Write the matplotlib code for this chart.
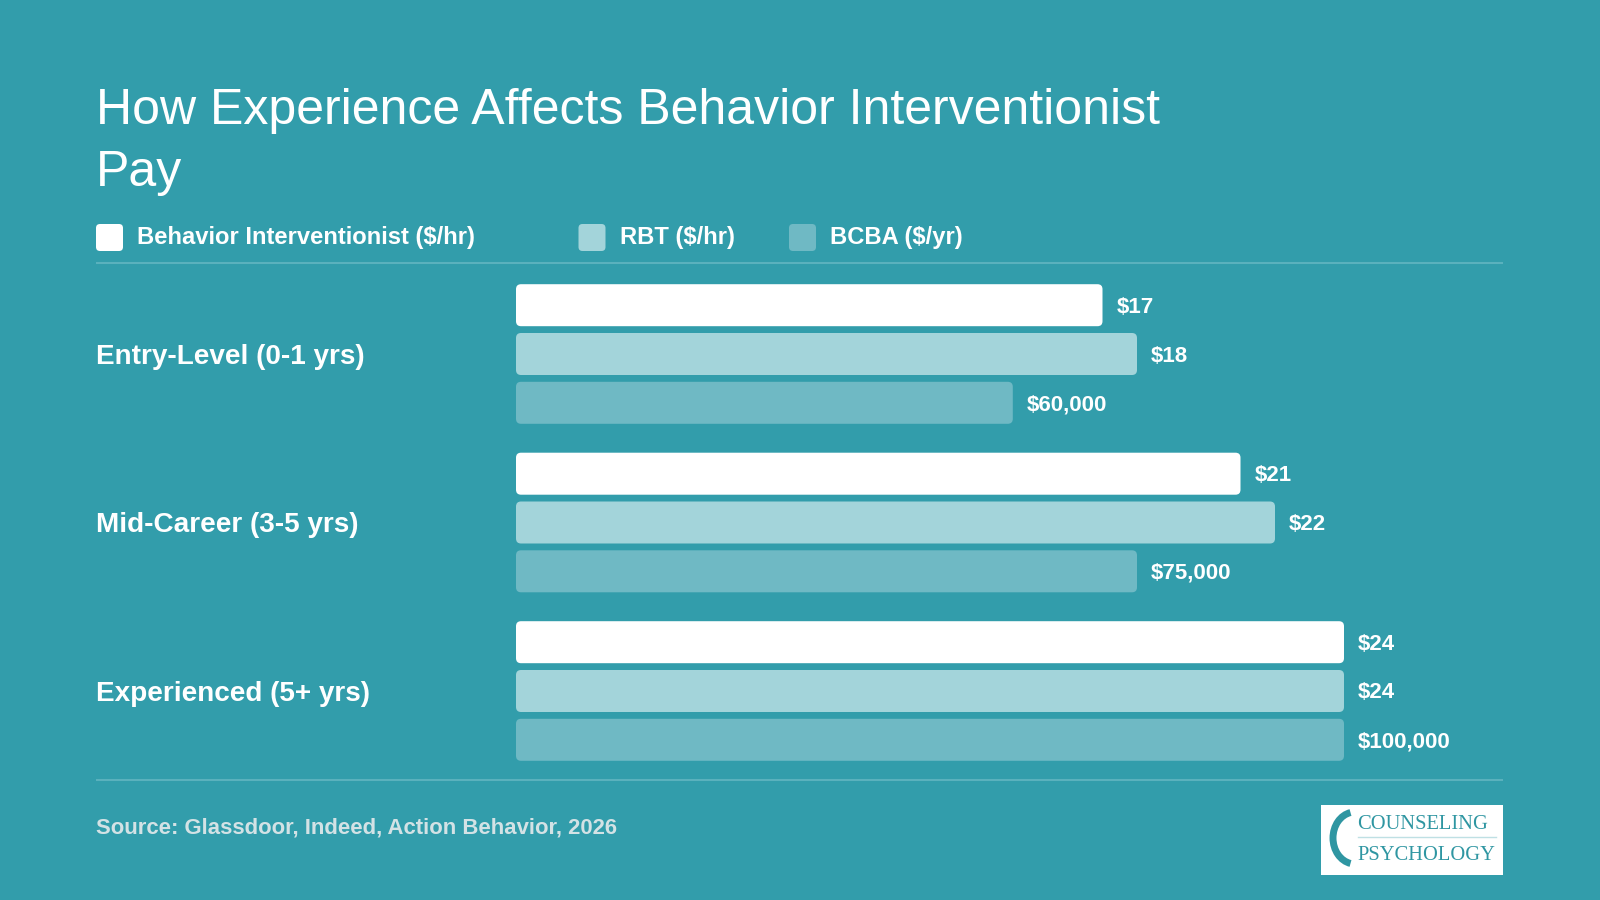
import matplotlib
matplotlib.use("Agg")
import matplotlib.pyplot as plt
from matplotlib.patches import FancyBboxPatch, Rectangle, Arc
import matplotlib.transforms as mtransforms

# ---- data ----
categories = ["Entry-Level (0-1 yrs)", "Mid-Career (3-5 yrs)", "Experienced (5+ yrs)"]
series_names = ["Behavior Interventionist ($/hr)", "RBT ($/hr)", "BCBA ($/yr)"]
bi_hourly = [17, 21, 24]
rbt_hourly = [18, 22, 24]
bcba_yearly = [60000, 75000, 100000]

title = "How Experience Affects Behavior Interventionist\nPay"
source = "Source: Glassdoor, Indeed, Action Behavior, 2026"

# ---- style ----
BG = "#329DAB"
COLORS = ["#FFFFFF", "#A3D4DA", "#6FB9C4"]
LINE = "#5AB1BD"
SRC = "#D3E2E5"
LOGO_TEAL = "#2F96A2"
FONT = "Liberation Sans"

W, H = 1600, 900
fig = plt.figure(figsize=(16, 9), dpi=100, facecolor=BG)

# background axes in pixel coordinates
bg = fig.add_axes([0, 0, 1, 1])
bg.set_xlim(0, W)
bg.set_ylim(H, 0)
bg.axis("off")
bg.set_facecolor(BG)

# title
t1, t2 = title.split("\n")
bg.text(96, 123.5, t1, fontsize=36, color="white", family=FONT, va="baseline", ha="left")
bg.text(96, 186, t2, fontsize=36, color="white", family=FONT, va="baseline", ha="left")

# legend
leg_x = [96, 578.5, 789]
for x, name, c in zip(leg_x, series_names, COLORS):
    bg.add_patch(FancyBboxPatch((x, 224), 27, 27, boxstyle="round,pad=0,rounding_size=4",
                                facecolor=c, edgecolor="none"))
    bg.text(x + 41, 237.5, name, fontsize=17.1, fontweight="bold", color="white",
            family=FONT, va="center", ha="left")

# separators
bg.plot([96, 1503], [263, 263], color=LINE, lw=1.5, solid_capstyle="butt")
bg.plot([96, 1503], [780, 780], color=LINE, lw=1.5, solid_capstyle="butt")

# source
bg.text(96, 828, source, fontsize=15.9, fontweight="bold", color=SRC, family=FONT,
        va="center", ha="left")

# logo
bg.add_patch(Rectangle((1321, 805), 182, 69.5, facecolor="white", edgecolor="none"))
bg.text(1357, 829, "COUNSELING", fontsize=14.8, color=LOGO_TEAL, family="Liberation Serif",
        va="baseline", ha="left")
bg.text(1357, 860, "PSYCHOLOGY", fontsize=14.8, color=LOGO_TEAL, family="Liberation Serif",
        va="baseline", ha="left")
bg.plot([1358, 1496], [837, 837], color="#BFE0E4", lw=1)
bg.add_patch(Arc((1355, 838), 44, 52, theta1=100, theta2=260, color=LOGO_TEAL, lw=5))

# ---- bar axes ----
px_left, px_right = 516, 1344
px_top, px_bot = 263, 780
ax = fig.add_axes([px_left / W, (H - px_bot) / H, (px_right - px_left) / W, (px_bot - px_top) / H])
ax.set_facecolor("none")
ax.axis("off")
group_px = 168.5
top_units = (354 - px_top) / group_px
bot_units = (px_bot - 691) / group_px
ax.set_xlim(0, 1)
ax.set_ylim(len(categories) - 1 + bot_units, -top_units)

offsets = [-48.8 / group_px, 0, 48.8 / group_px]
bar_h = 42 / group_px
all_series = [bi_hourly, rbt_hourly, bcba_yearly]

aspect = (px_right - px_left) / group_px
r_px = 5
for s_idx, (vals, c, off) in enumerate(zip(all_series, COLORS, offsets)):
    vmax = max(vals)
    norm = [v / vmax for v in vals]
    ypos = [i + off for i in range(len(categories))]
    bars = ax.barh(ypos, norm, height=bar_h, color=c)
    for rect, v in zip(bars, vals):
        x0, y0, w, h = rect.get_x(), rect.get_y(), rect.get_width(), rect.get_height()
        rect.remove()
        ax.add_patch(FancyBboxPatch((x0, y0), w, h,
                                    boxstyle=f"round,pad=0,rounding_size={r_px / (px_right - px_left)}",
                                    mutation_aspect=aspect, facecolor=c, edgecolor="none"))
        ax.text(x0 + w + 14 / (px_right - px_left), y0 + h / 2 + 2 / group_px, f"${v:,}",
                fontsize=16, fontweight="bold", color="white", family=FONT,
                va="center", ha="left", clip_on=False)

trans = mtransforms.blended_transform_factory(fig.transFigure, ax.transData)
for i, cat in enumerate(categories):
    ax.text(96 / W, i + 2.5 / group_px, cat, transform=trans, fontsize=20.1, fontweight="bold",
            color="white", family=FONT, va="center", ha="left")

fig.savefig("out.png", dpi=100, facecolor=BG)
